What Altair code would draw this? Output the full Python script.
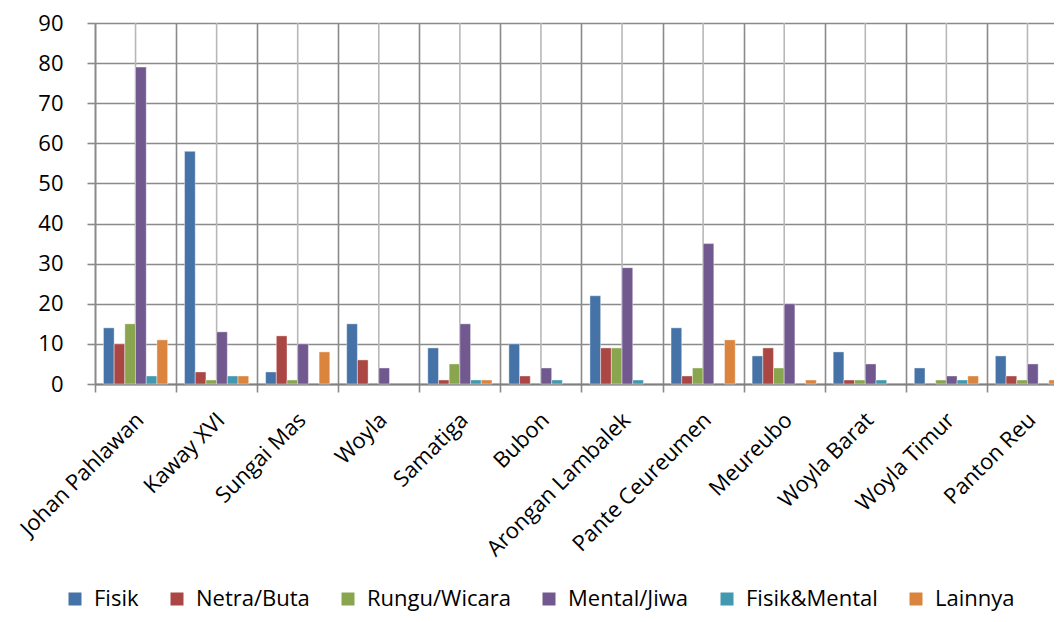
import altair as alt
import pandas as pd

categories = ["Johan Pahlawan", "Kaway XVI", "Sungai Mas", "Woyla", "Samatiga", "Bubon",
              "Arongan Lambalek", "Pante Ceureumen", "Meureubo", "Woyla Barat",
              "Woyla Timur", "Panton Reu"]
series = ["Fisik", "Netra/Buta", "Rungu/Wicara", "Mental/Jiwa", "Fisik&Mental", "Lainnya"]
fisik = [14, 58, 3, 15, 9, 10, 22, 14, 7, 8, 4, 7]
netra = [10, 3, 12, 6, 1, 2, 9, 2, 9, 1, 0, 2]
rungu = [15, 1, 1, 0, 5, 0, 9, 4, 4, 1, 1, 1]
mental = [79, 13, 10, 4, 15, 4, 29, 35, 20, 5, 2, 5]
fisik_mental = [2, 2, 0, 0, 1, 1, 1, 0, 0, 1, 1, 0]
lainnya = [11, 2, 8, 0, 1, 0, 0, 11, 1, 0, 2, 1]
colors = ["#4572A7", "#AA4643", "#89A54E", "#71588F", "#4198AF", "#DB843D"]

values = [fisik, netra, rungu, mental, fisik_mental, lainnya]
rows = []
for s, vals in zip(series, values):
    for c, v in zip(categories, vals):
        rows.append({"kec": c, "jenis": s, "jumlah": v})
df = pd.DataFrame(rows)
cat_df = pd.DataFrame({"kec": categories})

FONT = "Open Sans"
DARK = "#8a8a8a"
LIGHT = "#b8b8b8"
H = 361

x_enc = alt.X(
    "kec:N", sort=categories, title=None,
    scale=alt.Scale(paddingInner=0, paddingOuter=0, range=[0, 973]),
    axis=alt.Axis(labelAngle=-45, labelFontSize=22, labelFont=FONT, labelColor="#000000",
                  tickBand="extent", grid=True, gridColor=DARK, gridWidth=1.6,
                  tickColor=DARK, tickWidth=1.6, tickSize=8, domainColor="#808080",
                  domainWidth=2.2, labelPadding=17, labelOffset=-3, labelLimit=400),
)

centers = alt.Chart(cat_df).mark_rule(color=LIGHT, strokeWidth=1.6).encode(
    x=x_enc, y=alt.value(0), y2=alt.value(H)
)

bars = alt.Chart(df).transform_filter("datum.jumlah > 0").mark_bar(
    stroke="#ffffff", strokeWidth=0.8, strokeOpacity=0.5
).encode(
    x=x_enc,
    xOffset=alt.XOffset("jenis:N", sort=series,
                        scale=alt.Scale(paddingInner=0, paddingOuter=0.79)),
    y=alt.Y("jumlah:Q", title=None,
            scale=alt.Scale(domain=[0, 90], nice=False),
            axis=alt.Axis(values=list(range(0, 91, 10)), labelFontSize=22, labelFont=FONT,
                          labelColor="#000000", grid=True, gridColor=DARK, gridWidth=1.6,
                          tickColor=DARK, tickWidth=1.6, tickSize=8, domainColor=DARK,
                          domainWidth=1.6, labelPadding=24)),
    color=alt.Color("jenis:N", sort=series,
                    scale=alt.Scale(domain=series, range=colors),
                    legend=alt.Legend(orient="none", legendX=-31, legendY=565,
                                      direction="horizontal", columns=6, title=None,
                                      symbolType="square", symbolSize=169,
                                      symbolStrokeWidth=0, labelFontSize=22,
                                      labelFont=FONT, labelColor="#000000",
                                      columnPadding=27, labelOffset=8)),
)

chart = alt.layer(centers, bars).properties(
    width=959, height=H,
    autosize=alt.AutoSizeParams(type="none"),
    padding={"left": 87, "top": 15, "right": 0, "bottom": 230},
).configure_view(stroke=None).configure(font=FONT)

chart.save("out.html", embed_options={"renderer": "svg", "actions": False})
